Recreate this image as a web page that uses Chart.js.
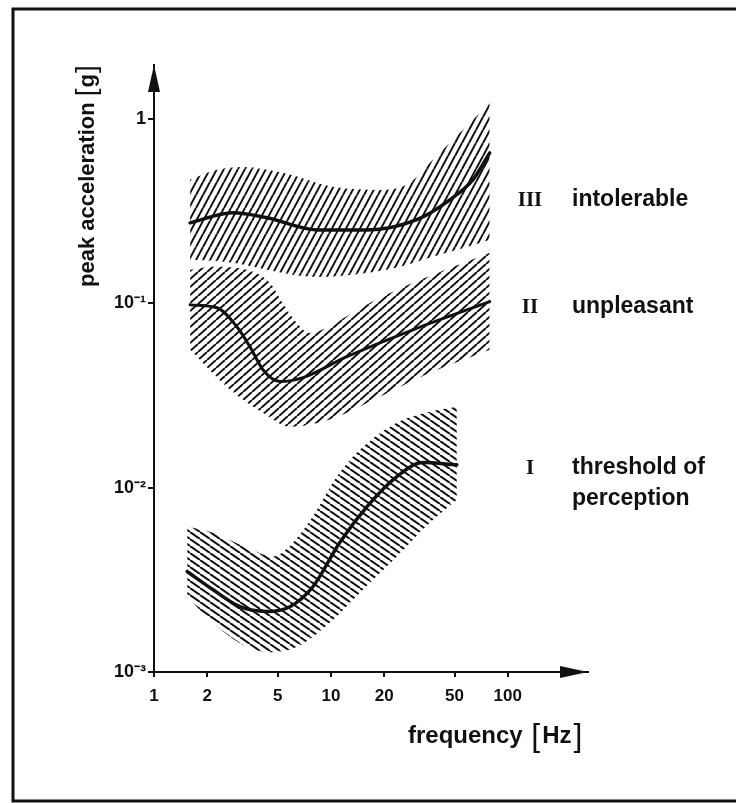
<!DOCTYPE html>
<html>
<head>
<meta charset="utf-8">
<script src="https://cdn.jsdelivr.net/npm/chart.js@4"></script>
<style>
  html, body { margin: 0; padding: 0; background: #fff; }
  canvas { display: block; }
</style>
</head>
<body>
<canvas id="vib" width="736" height="803"></canvas>
<script>
// vibration tolerance zones, frequency [Hz] vs peak acceleration [g]
const xTicks = [1, 2, 5, 10, 20, 50, 100];
const yTicks = [0.001, 0.01, 0.1, 1];
const yTickLabels = ['10\u207B\u00B3', '10\u207B\u00B2', '10\u207B\u00B9', '1'];

// zone III - intolerable
const bandIIIUpperF = [1.6, 2.27, 3.18, 5.35, 10.3, 19.7, 27.9, 37.7, 53.6, 79];
const bandIIIUpperA = [0.467, 0.529, 0.549, 0.51, 0.428, 0.412, 0.45, 0.6, 0.84, 1.22];
const bandIIILowerF = [1.6, 2.8, 5.35, 8.34, 16.0, 24.5, 37.7, 58.7, 79];
const bandIIILowerA = [0.172, 0.166, 0.146, 0.139, 0.146, 0.158, 0.179, 0.202, 0.221];
const curveIIIF = [1.6, 2.8, 4.35, 8.34, 16.0, 30.6, 47.0, 63.4, 79];
const curveIIIA = [0.273, 0.31, 0.291, 0.25, 0.25, 0.284, 0.364, 0.467, 0.654];

// zone II - unpleasant
const bandIIUpperF = [1.6, 2.15, 3.35, 4.52, 5.35, 6.43, 7.61, 9.0, 15.2, 29.1, 79];
const bandIIUpperA = [0.152, 0.158, 0.152, 0.129, 0.1, 0.078, 0.069, 0.072, 0.096, 0.129, 0.188];
const bandIILowerF = [1.6, 2.69, 4.13, 5.87, 9.87, 18.9, 36.3, 79];
const bandIILowerA = [0.056, 0.034, 0.0255, 0.0214, 0.0234, 0.0311, 0.042, 0.056];
const curveIIF = [1.6, 2.27, 2.94, 3.49, 4.13, 5.15, 6.95, 12.3, 29.1, 79];
const curveIIA = [0.098, 0.0945, 0.0746, 0.058, 0.0436, 0.0376, 0.0395, 0.0513, 0.0718, 0.102];

// zone I - threshold of perception
const bandIUpperF = [1.54, 2.15, 3.35, 4.7, 6.1, 7.91, 10.8, 15.2, 23.6, 36.3, 51.5];
const bandIUpperA = [0.00615, 0.0057, 0.00473, 0.00423, 0.00503, 0.00697, 0.01148, 0.01667, 0.0225, 0.0258, 0.0275];
const bandILowerF = [1.54, 2.15, 3.35, 4.52, 6.43, 9.87, 15.2, 23.6, 36.3, 51.5];
const bandILowerA = [0.00257, 0.00185, 0.00137, 0.00128, 0.00137, 0.00185, 0.0028, 0.00423, 0.00646, 0.0086];
const curveIF = [1.54, 2.15, 3.06, 4.35, 5.87, 7.91, 11.2, 16.0, 23.6, 33.1, 51.5];
const curveIA = [0.00351, 0.0028, 0.00226, 0.00213, 0.00226, 0.0029, 0.00503, 0.00789, 0.01148, 0.01367, 0.0133];

const zoneNumerals = ['III', 'II', 'I'];
const zoneNames = [['intolerable'], ['unpleasant'], ['threshold of', 'perception']];

function pts(fs, as) {
    return fs.map((f, i) => ({ x: f, y: as[i] }));
}

// tiled hatch: dir 1 = "/", dir -1 = "\"
function hatch(w, h, dir) {
    const c = document.createElement('canvas');
    c.width = w; c.height = h;
    const g = c.getContext('2d');
    g.strokeStyle = '#111';
    g.lineWidth = 2;
    for (const o of [-1, 0, 1]) {
        g.beginPath();
        if (dir > 0) { g.moveTo(o * w, h); g.lineTo(o * w + w, 0); }
        else { g.moveTo(o * w, 0); g.lineTo(o * w + w, h); }
        g.stroke();
    }
    return g.createPattern(c, 'repeat');
}

const edge = { borderWidth: 0, borderColor: 'rgba(0,0,0,0)', pointRadius: 0, cubicInterpolationMode: 'monotone' };
const curve = { borderColor: '#111', pointRadius: 0, fill: false, cubicInterpolationMode: 'monotone', borderCapStyle: 'round' };

const frame = {
    id: 'frame',
    afterDraw(chart) {
        const ctx = chart.ctx;
        const a = chart.chartArea;
        ctx.save();
        ctx.strokeStyle = '#111';
        ctx.fillStyle = '#111';
        // outer frame
        ctx.lineWidth = 3;
        ctx.beginPath();
        ctx.moveTo(736, 9); ctx.lineTo(13, 9); ctx.lineTo(13, 801); ctx.lineTo(736, 801);
        ctx.stroke();
        // arrow heads
        ctx.beginPath();
        ctx.moveTo(a.left, a.top); ctx.lineTo(a.left - 6, a.top + 27); ctx.lineTo(a.left + 6, a.top + 27);
        ctx.closePath(); ctx.fill();
        ctx.beginPath();
        ctx.moveTo(a.right, a.bottom); ctx.lineTo(a.right - 28, a.bottom - 6); ctx.lineTo(a.right - 28, a.bottom + 6);
        ctx.closePath(); ctx.fill();

        // axis titles
        ctx.textBaseline = 'alphabetic';
        ctx.save();
        ctx.translate(94, 287);
        ctx.rotate(-Math.PI / 2);
        let x = 0;
        ctx.font = 'bold 22px "Liberation Sans", Arial, sans-serif';
        ctx.fillText('peak acceleration', x, 0);
        x += ctx.measureText('peak acceleration ').width;
        ctx.font = '28px "Liberation Sans", Arial, sans-serif';
        ctx.fillText('[', x, 1); x += ctx.measureText('[').width + 1;
        ctx.font = 'bold 22px "Liberation Sans", Arial, sans-serif';
        ctx.fillText('g', x, 0); x += ctx.measureText('g').width + 1;
        ctx.font = '28px "Liberation Sans", Arial, sans-serif';
        ctx.fillText(']', x, 1);
        ctx.restore();

        x = 408;
        const by = 743;
        ctx.font = 'bold 24px "Liberation Sans", Arial, sans-serif';
        ctx.fillText('frequency', x, by);
        x += ctx.measureText('frequency ').width + 2;
        ctx.font = '32px "Liberation Sans", Arial, sans-serif';
        ctx.fillText('[', x, by + 3); x += ctx.measureText('[').width + 2;
        ctx.font = 'bold 24px "Liberation Sans", Arial, sans-serif';
        ctx.fillText('Hz', x, by); x += ctx.measureText('Hz').width + 2;
        ctx.font = '32px "Liberation Sans", Arial, sans-serif';
        ctx.fillText(']', x, by + 3);

        // zone labels
        const rows = [206, 313, 474];
        zoneNumerals.forEach((n, i) => {
            ctx.font = 'bold 21px "Liberation Serif", serif';
            ctx.textAlign = 'center';
            ctx.fillText(n, 530, rows[i]);
            ctx.textAlign = 'left';
            ctx.font = 'bold 23px "Liberation Sans", Arial, sans-serif';
            zoneNames[i].forEach((t, k) => ctx.fillText(t, 572, rows[i] + k * 31));
        });
        ctx.restore();
    }
};

const tickFont = { family: '"Liberation Sans", Arial, sans-serif', size: 17, weight: 'bold' };

new Chart(document.getElementById('vib'), {
    type: 'line',
    data: {
        datasets: [
            { ...edge, data: pts(bandIIIUpperF, bandIIIUpperA), fill: '+1', backgroundColor: hatch(7, 13, 1) },
            { ...edge, data: pts(bandIIILowerF, bandIIILowerA), fill: false },
            { ...curve, data: pts(curveIIIF, curveIIIA), borderWidth: 3.5 },
            { ...edge, data: pts(bandIIUpperF, bandIIUpperA), fill: '+1', backgroundColor: hatch(9, 8, 1) },
            { ...edge, data: pts(bandIILowerF, bandIILowerA), fill: false },
            { ...curve, data: pts(curveIIF, curveIIA), borderWidth: 3 },
            { ...edge, data: pts(bandIUpperF, bandIUpperA), fill: '+1', backgroundColor: hatch(10, 7, -1) },
            { ...edge, data: pts(bandILowerF, bandILowerA), fill: false },
            { ...curve, data: pts(curveIF, curveIA), borderWidth: 3.5 }
        ]
    },
    options: {
        responsive: false,
        animation: false,
        devicePixelRatio: 1,
        layout: { padding: { left: 94, right: 148, top: 65, bottom: 91 } },
        plugins: {
            legend: { display: false },
            tooltip: { enabled: false },
            filler: { drawTime: 'beforeDatasetsDraw' }
        },
        scales: {
            x: {
                type: 'logarithmic',
                min: 1, max: 284,
                afterFit: s => { s.height = 40; },
                afterBuildTicks: s => { s.ticks = xTicks.map(v => ({ value: v })); },
                ticks: { color: '#111', font: tickFont, padding: 9, autoSkip: false, maxRotation: 0, callback: v => String(v) },
                grid: { drawOnChartArea: false, color: '#111', tickLength: 5, lineWidth: 2 },
                border: { color: '#111', width: 2 }
            },
            y: {
                type: 'logarithmic',
                min: 0.001, max: 1.96,
                afterFit: s => { s.width = 60; },
                afterBuildTicks: s => { s.ticks = yTicks.map(v => ({ value: v })); },
                ticks: {
                    color: '#111', font: { ...tickFont, size: 18 }, padding: 2, autoSkip: false,
                    callback: v => yTickLabels[yTicks.indexOf(v)] ?? ''
                },
                grid: { drawOnChartArea: false, color: '#111', tickLength: 6, lineWidth: 2 },
                border: { color: '#111', width: 2 }
            }
        }
    },
    plugins: [frame]
});
</script>
</body>
</html>
